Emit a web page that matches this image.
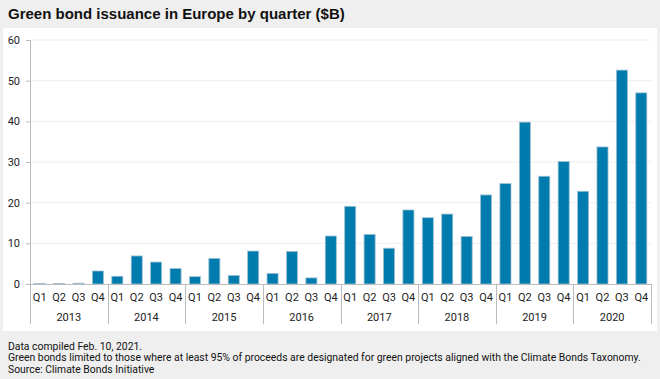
<!DOCTYPE html>
<html>
<head>
<meta charset="utf-8">
<script src="https://cdn.jsdelivr.net/npm/d3@7"></script>
<style>
  html, body { margin: 0; padding: 0; background: #efefef; }
  svg { display: block; }
</style>
</head>
<body>
<div id="chart"></div>
<script>
"use strict";

/********/
/* data */
/********/

const years = ["2013", "2014", "2015", "2016", "2017", "2018", "2019", "2020"];
const quarters = ["Q1", "Q2", "Q3", "Q4"];
// issuance in $B, one row of four quarters per year
const issuance = [
  [0.1, 0.1, 0.2, 3.2],
  [1.9, 6.9, 5.4, 3.8],
  [1.8, 6.3, 2.1, 8.1],
  [2.6, 8.0, 1.5, 11.8],
  [19.1, 12.2, 8.8, 18.2],
  [16.3, 17.2, 11.7, 21.9],
  [24.7, 39.8, 26.5, 30.1],
  [22.8, 33.7, 52.6, 47.0],
];
const yTicks = [0, 10, 20, 30, 40, 50, 60];
const title = "Green bond issuance in Europe by quarter ($B)";
const notes = [
  "Data compiled Feb. 10, 2021.",
  "Green bonds limited to those where at least 95% of proceeds are designated for green projects aligned with the Climate Bonds Taxonomy.",
  "Source: Climate Bonds Initiative",
];

/********/
/* view */
/********/

const width = 660;
const height = 379;
const margin = { left: 30, right: 9, top: 40, bottom: 95 };
const font = "Roboto, 'Liberation Sans', sans-serif";

const rows = [];
years.forEach((year, i) => {
  quarters.forEach((q, j) => {
    rows.push({ key: `${year}-${q}`, year: year, quarter: q, value: issuance[i][j] });
  });
});

const svg = d3
  .select("#chart")
  .append("svg")
  .attr("width", width)
  .attr("height", height);

svg
  .append("rect")
  .attr("x", 3)
  .attr("y", 28)
  .attr("width", 654)
  .attr("height", 303)
  .attr("fill", "#ffffff");

svg
  .append("text")
  .attr("x", 8)
  .attr("y", 19)
  .attr("font-family", "'Liberation Sans', Arial, sans-serif")
  .attr("font-weight", "bold")
  .attr("font-size", 15)
  .attr("fill", "#111")
  .text(title);

const x = d3
  .scaleBand()
  .domain(rows.map(d => d.key))
  .range([margin.left, width - margin.right])
  .paddingInner(0.43)
  .paddingOuter(0.215);

const y = d3
  .scaleLinear()
  .domain([0, 60])
  .range([284, margin.top]);

// gridlines
svg
  .append("g")
  .selectAll("line")
  .data(yTicks.filter(t => t > 0))
  .join("line")
  .attr("x1", margin.left)
  .attr("x2", width - margin.right)
  .attr("y1", d => y(d))
  .attr("y2", d => y(d))
  .attr("stroke", "#eeeeee")
  .attr("stroke-width", 1);

// y axis
const yAxis = svg
  .append("g")
  .attr("transform", `translate(${margin.left},0)`)
  .call(
    d3
      .axisLeft(y)
      .tickValues(yTicks)
      .tickSize(4)
      .tickPadding(6),
  );
yAxis.select(".domain").attr("stroke", "#bbbbbb");
yAxis.selectAll(".tick line").attr("stroke", "#bbbbbb");
yAxis
  .selectAll(".tick text")
  .attr("font-family", font)
  .attr("font-size", 11)
  .attr("fill", "#222");

// bars
svg
  .append("g")
  .selectAll("rect")
  .data(rows)
  .join("rect")
  .attr("x", d => x(d.key))
  .attr("y", d => y(d.value))
  .attr("width", x.bandwidth())
  .attr("height", d => y(0) - y(d.value))
  .attr("fill", "#007bad")
  .attr("stroke", "#9fc0d4")
  .attr("stroke-width", 0.8);

// x baseline
svg
  .append("line")
  .attr("x1", margin.left - 4)
  .attr("x2", width - margin.right)
  .attr("y1", y(0) + 0.5)
  .attr("y2", y(0) + 0.5)
  .attr("stroke", "#bbbbbb");

// quarter labels
svg
  .append("g")
  .selectAll("text")
  .data(rows)
  .join("text")
  .attr("x", d => x(d.key) + x.bandwidth() / 2)
  .attr("y", 297)
  .attr("dominant-baseline", "central")
  .attr("text-anchor", "middle")
  .attr("font-family", font)
  .attr("font-size", 11)
  .attr("fill", "#222")
  .text(d => d.quarter);

// year groups
const step = x.step();
const yearStart = i => margin.left + i * 4 * step;

svg
  .append("g")
  .selectAll("line")
  .data(d3.range(years.length + 1))
  .join("line")
  .attr("x1", i => Math.round(yearStart(i)) + 0.5)
  .attr("x2", i => Math.round(yearStart(i)) + 0.5)
  .attr("y1", y(0))
  .attr("y2", 324)
  .attr("stroke", "#bbbbbb");

svg
  .append("g")
  .selectAll("text")
  .data(years)
  .join("text")
  .attr("x", (d, i) => yearStart(i) + 2 * step)
  .attr("y", 317)
  .attr("dominant-baseline", "central")
  .attr("text-anchor", "middle")
  .attr("font-family", font)
  .attr("font-size", 11)
  .attr("fill", "#222")
  .text(d => d);

// footnotes
svg
  .append("g")
  .selectAll("text")
  .data(notes)
  .join("text")
  .attr("x", 8)
  .attr("y", (d, i) => 346 + i * 11.5)
  .attr("dominant-baseline", "central")
  .attr("font-family", font)
  .attr("font-size", 10.4)
  .attr("fill", "#111")
  .text(d => d);
</script>
</body>
</html>
